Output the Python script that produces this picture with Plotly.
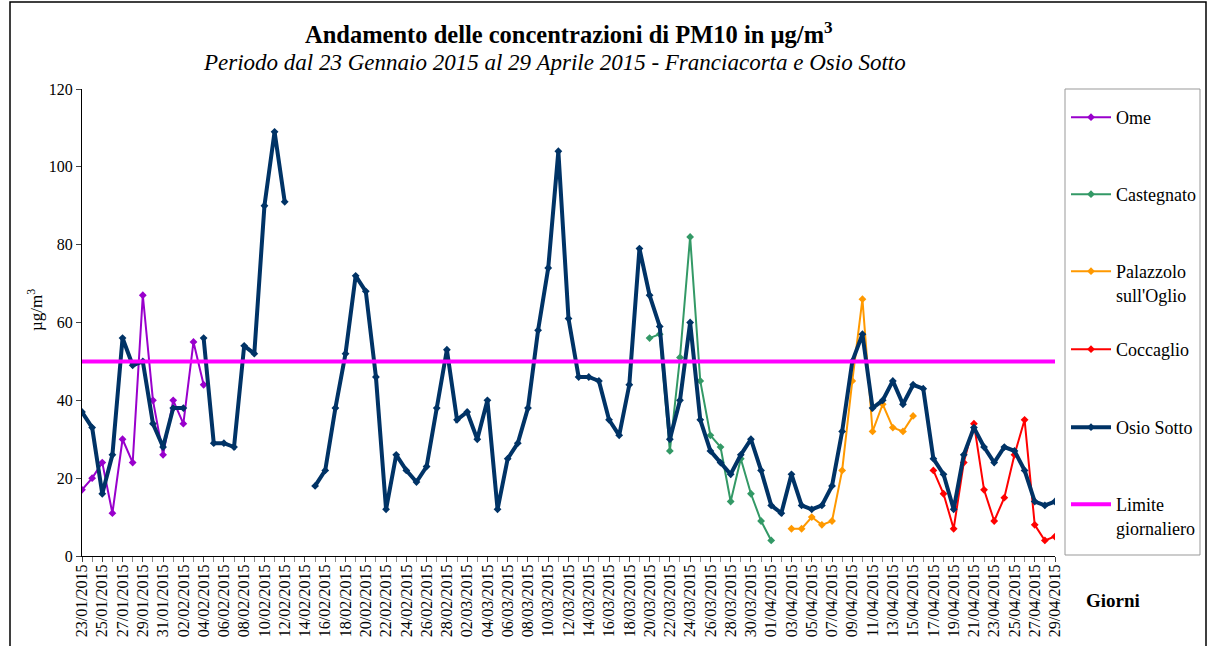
import pandas as pd
import plotly.graph_objects as go

# giorni dal 23/01/2015 al 29/04/2015
giorni = pd.date_range("2015-01-23", "2015-04-29", freq="D")

ome = [17, 20, 24, 11, 30, 24, 67, 40, 26, 40, 34, 55, 44] + [None] * 84
castegnato = [None] * 56 + [56, 57, 27, 51, 82, 45, 31, 28, 14, 25, 16, 9, 4] + [None] * 28
palazzolo = [None] * 70 + [7, 7, 10, 8, 9, 22, 45, 66, 32, 39, 33, 32, 36] + [None] * 14
coccaglio = [None] * 84 + [22, 16, 7, 24, 34, 17, 9, 15, 26, 35, 8, 4, 5]
osio_sotto = ([37, 33, 16, 26, 56, 49, 50, 34, 28, 38, 38, None,
               56, 29, 29, 28, 54, 52, 90, 109, 91, None, None,
               18, 22, 38, 52, 72, 68, 46, 12, 26, 22, 19, 23, 38, 53,
               35, 37, 30, 40, 12, 25, 29,
               38, 58, 74, 104, 61, 46, 46, 45, 35, 31, 44, 79, 67, 59,
               30, 40, 60, 35, 27, 24, 21, 26, 30, 22,
               13, 11, 21, 13, 12, 13, 18, 32, 50, 57, 38, 40, 45, 39, 44, 43,
               25, 21, 12, 26, 33, 28, 24, 28, 27, 22, 14, 13, 14])
limite = 50

FONT = "Liberation Serif, Times New Roman, serif"

# area del grafico in pixel
L, R, T, B = 82, 1055, 89, 556
W, H = R - L, B - T


def px(x):
    return (x - L) / W


def py(y):
    return (B - y) / H


fig = go.Figure()

serie = [("Ome", ome, "#9900CC"),
         ("Castegnato", castegnato, "#339966"),
         ("Palazzolo<br>sull'Oglio", palazzolo, "#FF9900"),
         ("Coccaglio", coccaglio, "#FF0000")]
for i, (nome, valori, colore) in enumerate(serie):
    fig.add_trace(go.Scatter(x=giorni, y=valori, name=nome, mode="lines+markers",
                             line=dict(color=colore, width=2),
                             marker=dict(symbol="diamond", size=6, color=colore),
                             legend="legend" if i == 0 else "legend%d" % (i + 1)))

fig.add_trace(go.Scatter(x=giorni, y=osio_sotto, name="Osio Sotto", mode="lines+markers",
                         line=dict(color="#003366", width=4),
                         marker=dict(symbol="diamond", size=6, color="#003366"),
                         legend="legend5"))

fig.add_trace(go.Scatter(x=[giorni[0], giorni[-1]], y=[limite, limite],
                         name="Limite<br>giornaliero", mode="lines",
                         line=dict(color="#FF00FF", width=4), legend="legend6"))

testo = dict(xref="paper", yref="paper", showarrow=False, xanchor="center", yanchor="middle")

# posizione verticale (pixel) della prima riga di ogni voce di legenda
legenda_y = [118, 195, 272, 350, 428, 505]
legende = {}
for i, yy in enumerate(legenda_y):
    chiave = "legend" if i == 0 else "legend%d" % (i + 1)
    legende[chiave] = dict(x=px(1066), y=py(yy - 19), xanchor="left", yanchor="top",
                           font=dict(size=18, family=FONT), borderwidth=0,
                           bgcolor="rgba(0,0,0,0)", itemwidth=40, valign="top")

fig.update_layout(
    width=1207, height=646,
    margin=dict(l=L, r=1207 - R, t=T, b=646 - B, autoexpand=False),
    paper_bgcolor="white", plot_bgcolor="white",
    font=dict(family=FONT, color="black"),
    showlegend=True,
    annotations=[
        dict(text="<b>Andamento delle concentrazioni di PM10 in µg/m<sup>3</sup></b>",
             x=px(569), y=py(33), font=dict(size=24.5, family=FONT), **testo),
        dict(text="<i>Periodo dal 23 Gennaio 2015 al 29 Aprile 2015 - Franciacorta e Osio Sotto</i>",
             x=px(554), y=py(62), font=dict(size=23, family=FONT), **testo),
        dict(text="µg/m<sup>3</sup>", textangle=-90,
             x=px(35), y=py(310), font=dict(size=17, family=FONT), **testo),
        dict(text="<b>Giorni</b>",
             x=px(1113), y=py(600), font=dict(size=19, family=FONT), **testo),
    ],
    shapes=[
        dict(type="rect", xref="paper", yref="paper",
             x0=px(10), x1=px(1206), y0=py(700), y1=py(2),
             line=dict(color="black", width=1.5)),
        dict(type="rect", xref="paper", yref="paper",
             x0=px(1065), x1=px(1200), y0=py(555), y1=py(89),
             line=dict(color="#999999", width=1)),
    ],
    **legende,
)

fig.update_xaxes(range=[giorni[0], giorni[-1]], tickformat="%d/%m/%Y", dtick=2 * 86400000,
                 tick0=giorni[0], tickangle=-90, ticks="outside", ticklen=5,
                 ticklabelstandoff=-4,
                 tickfont=dict(size=16, family=FONT), automargin=False,
                 showline=True, linecolor="black", linewidth=1, showgrid=False, zeroline=False,
                 minor=dict(dtick=86400000, ticks="outside", ticklen=5, tickcolor="#888"))
fig.update_yaxes(range=[0, 120], dtick=20, ticks="outside", ticklen=5,
                 tickfont=dict(size=16, family=FONT), automargin=False,
                 showline=True, linecolor="black", linewidth=1, showgrid=False, zeroline=False)

fig.write_html("out.html", config={"displayModeBar": False},
               post_script="document.body.style.margin='0';")
